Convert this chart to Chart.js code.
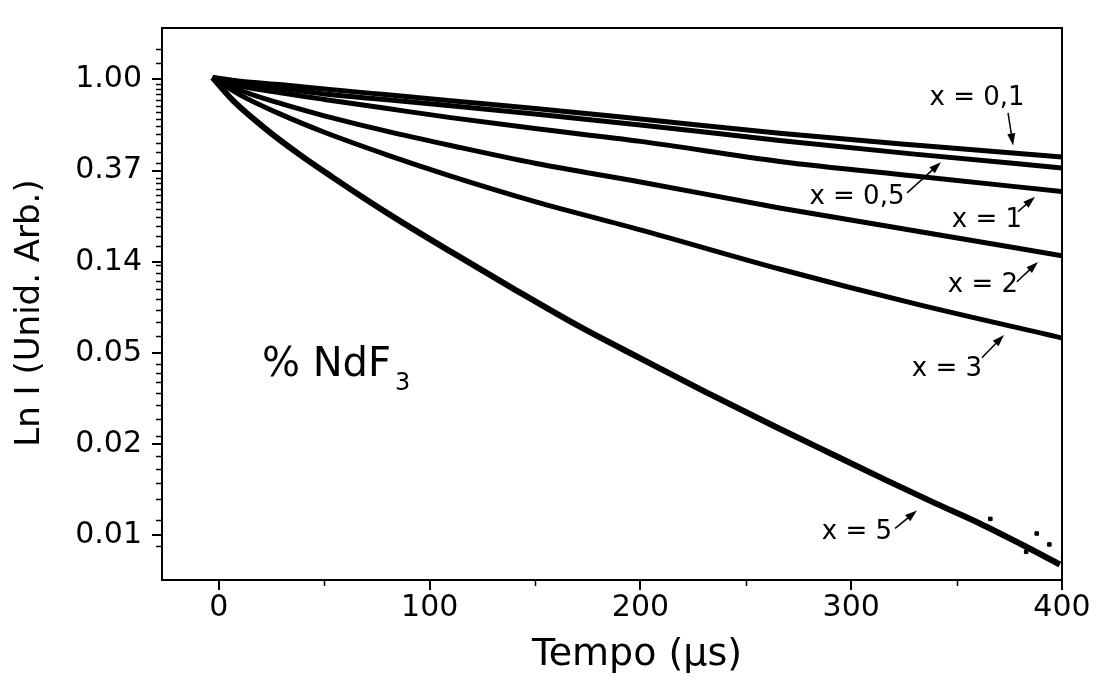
<!DOCTYPE html>
<html>
<head>
<meta charset="utf-8">
<script src="https://cdn.jsdelivr.net/npm/chart.js@4.4.0/dist/chart.umd.min.js"></script>
<style>
  body { margin: 0; background: #fff; }
  canvas { display: block; }
</style>
</head>
<body>
<canvas id="decayChart" width="1103" height="683"></canvas>
<script>
// time (µs) for the five smooth curves
const tempo = [-3, 10, 30, 50, 80, 110, 150, 200, 266, 330, 400];

const lnX01 = [0.02, -0.02, -0.06, -0.105, -0.17, -0.235, -0.32, -0.435, -0.59, -0.72, -0.852];
const lnX05 = [0.02, -0.04, -0.10, -0.16, -0.225, -0.29, -0.38, -0.50, -0.67, -0.82, -0.971];
const lnX1  = [0.02, -0.07, -0.15, -0.22, -0.32, -0.42, -0.54, -0.68, -0.90, -1.06, -1.23];
const lnX2  = [0.02, -0.12, -0.27, -0.40, -0.57, -0.725, -0.92, -1.125, -1.41, -1.66, -1.934];
const lnX3  = [0.02, -0.17, -0.39, -0.58, -0.83, -1.06, -1.34, -1.65, -2.08, -2.46, -2.836];

// x = 5 decays much faster, read on its own time grid
const tempoX5 = [-3, 7, 22, 38, 54, 70, 86, 110, 140, 171, 200, 231, 265, 290, 317, 340, 361, 380, 399];
const lnX5    = [0.02, -0.24, -0.54, -0.82, -1.075, -1.32, -1.555, -1.89, -2.30, -2.71, -3.06, -3.43, -3.82, -4.10, -4.40, -4.65, -4.87, -5.09, -5.32];
// a few loose points of the noisy tail
const strayTempo = [366, 383, 388, 394];
const strayLn    = [-4.82, -5.18, -4.98, -5.10];

const curveNames = ['x = 0,1', 'x = 0,5', 'x = 1', 'x = 2', 'x = 3', 'x = 5'];

// axis ticks
const xTicks = [0, 100, 200, 300, 400];
const xMinor = [50, 150, 250, 350];
const yTicks = [0, -1, -2, -3, -4, -5];
const yTickLabels = ['1.00', '0.37', '0.14', '0.05', '0.02', '0.01'];
// minor ticks of the ln axis: [from, to, step] in intensity
const yMinorSteps = [[1.0, 1.7, 0.2], [0.37, 1.0, 0.05], [0.14, 0.37, 0.02], [0.05, 0.14, 0.01], [0.018, 0.05, 0.004], [0.0041, 0.018, 0.002]];

// label centres and arrows (tail -> head), in data units
const labelAt = [[359.7, -0.206], [302.7, -1.288], [364.4, -1.548], [362.5, -2.262], [345.4, -3.18], [302.7, -4.97]];
const arrowAt = [
  [374.4, -0.368, 376.8, -0.725],
  [326.5, -1.245, 342.6, -0.909],
  [379.1, -1.45, 387.2, -1.288],
  [378.6, -2.219, 388.6, -2.002],
  [362.0, -3.052, 372.5, -2.803],
  [320.8, -4.924, 331.2, -4.729]
];
const sampleLabelAt = [20.4, -3.25];

const FONT = '"DejaVu Sans", "Liberation Sans", sans-serif';

function pairs(xs, ys) 
{
    return xs.map((t, i) => ({ x: t, y: ys[i] }));
}

const yMinor = [];
yMinorSteps.forEach(([lo, hi, step]) => {
    for (let v = Math.ceil(lo / step + 1e-9) * step; v < hi - step / 2; v += step) yMinor.push(v);
});

function curve(data, width) 
{
    return {
        data: data,
        showLine: true,
        borderColor: '#000',
        borderWidth: width,
        pointRadius: 0,
        cubicInterpolationMode: 'monotone'
    };
}

const decor = {
    id: 'decor',
    afterDraw(chart) 
    {
        const { ctx, chartArea: a, scales: { x, y } } = chart;
        ctx.save();
        ctx.strokeStyle = '#000';
        ctx.fillStyle = '#000';

        // frame
        ctx.lineWidth = 2;
        ctx.strokeRect(a.left, a.top, a.right - a.left, a.bottom - a.top);

        // minor ticks
        ctx.beginPath();
        yMinor.forEach(v => {
            const py = Math.round(y.getPixelForValue(Math.log(v))) + 0.5;
            ctx.moveTo(a.left - 6, py);
            ctx.lineTo(a.left, py);
        });
        xMinor.forEach(v => {
            const px = Math.round(x.getPixelForValue(v)) + 0.5;
            ctx.moveTo(px, a.bottom);
            ctx.lineTo(px, a.bottom + 6);
        });
        ctx.lineWidth = 1.5;
        ctx.stroke();

        // axis titles
        ctx.textAlign = 'center';
        ctx.textBaseline = 'middle';
        ctx.font = '38px ' + FONT;
        ctx.fillText('Tempo (μs)', (a.left + a.right) / 2 + 25, a.bottom + 75);
        ctx.save();
        ctx.translate(30, (a.top + a.bottom) / 2 + 9);
        ctx.rotate(-Math.PI / 2);
        ctx.font = '34px ' + FONT;
        ctx.fillText('Ln I (Unid. Arb.)', 0, 0);
        ctx.restore();

        // curve labels
        ctx.font = '26px ' + FONT;
        curveNames.forEach((name, i) => {
            ctx.fillText(name, x.getPixelForValue(labelAt[i][0]), y.getPixelForValue(labelAt[i][1]));
        });

        // arrows
        arrowAt.forEach(([t0, l0, t1, l1]) => {
            const x0 = x.getPixelForValue(t0), y0 = y.getPixelForValue(l0);
            const x1 = x.getPixelForValue(t1), y1 = y.getPixelForValue(l1);
            const ang = Math.atan2(y1 - y0, x1 - x0);
            ctx.lineWidth = 1.5;
            ctx.beginPath();
            ctx.moveTo(x0, y0);
            ctx.lineTo(x1 - 8 * Math.cos(ang), y1 - 8 * Math.sin(ang));
            ctx.stroke();
            ctx.beginPath();
            ctx.moveTo(x1, y1);
            ctx.lineTo(x1 - 12 * Math.cos(ang) + 4 * Math.sin(ang), y1 - 12 * Math.sin(ang) - 4 * Math.cos(ang));
            ctx.lineTo(x1 - 12 * Math.cos(ang) - 4 * Math.sin(ang), y1 - 12 * Math.sin(ang) + 4 * Math.cos(ang));
            ctx.closePath();
            ctx.fill();
        });

        // sample label
        const sx = x.getPixelForValue(sampleLabelAt[0]);
        const sy = y.getPixelForValue(sampleLabelAt[1]);
        ctx.textAlign = 'left';
        ctx.textBaseline = 'alphabetic';
        ctx.font = '40px ' + FONT;
        ctx.fillText('% NdF', sx, sy);
        const w = ctx.measureText('% NdF').width;
        ctx.font = '24px ' + FONT;
        ctx.fillText('3', sx + w + 4, sy + 14);

        ctx.restore();
    }
};

new Chart(document.getElementById('decayChart'), {
    type: 'scatter',
    data: {
        datasets: [
            curve(pairs(tempo, lnX01), 5),
            curve(pairs(tempo, lnX05), 5),
            curve(pairs(tempo, lnX1), 5),
            curve(pairs(tempo, lnX2), 5),
            curve(pairs(tempo, lnX3), 5),
            curve(pairs(tempoX5, lnX5), 6),
            {
                data: pairs(strayTempo, strayLn),
                showLine: false,
                pointRadius: 2.5,
                pointStyle: 'rect',
                backgroundColor: '#000',
                borderColor: '#000'
            }
        ]
    },
    options: {
        responsive: false,
        animation: false,
        layout: { padding: { top: 21, right: 41, left: 0, bottom: 0 } },
        plugins: {
            legend: { display: false },
            tooltip: { enabled: false }
        },
        scales: {
            x: {
                type: 'linear',
                min: -27,
                max: 400,
                afterBuildTicks: (scale) => { scale.ticks = xTicks.map(v => ({ value: v })); },
                afterFit: (scale) => { scale.height = 103; },
                grid: { drawOnChartArea: false, tickLength: 10, color: '#000', lineWidth: 2 },
                border: { color: '#000', width: 2 },
                ticks: {
                    color: '#000',
                    padding: 0,
                    font: { family: FONT, size: 30 }
                }
            },
            y: {
                type: 'linear',
                min: -5.49,
                max: 0.563,
                afterBuildTicks: (scale) => { scale.ticks = yTicks.map(v => ({ value: v })); },
                afterFit: (scale) => { scale.width = 162; },
                grid: { drawOnChartArea: false, tickLength: 10, color: '#000', lineWidth: 2 },
                border: { color: '#000', width: 2 },
                ticks: {
                    color: '#000',
                    padding: 10,
                    autoSkip: false,
                    font: { family: FONT, size: 30 },
                    callback: (value) => yTickLabels[yTicks.indexOf(value)]
                }
            }
        }
    },
    plugins: [decor]
});
</script>
</body>
</html>
